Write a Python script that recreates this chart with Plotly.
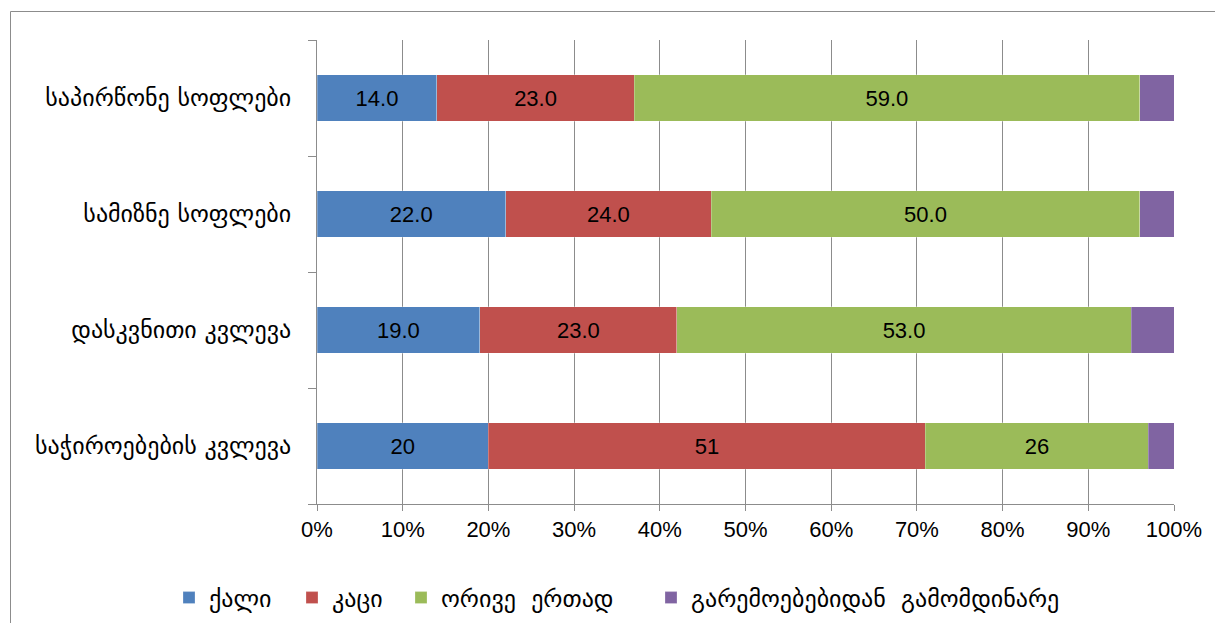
import plotly.graph_objects as go

categories = ["საჭიროებების კვლევა", "დასკვნითი კვლევა", "სამიზნე სოფლები", "საპირწონე სოფლები"]
series_names = ["ქალი", "კაცი", "ორივე  ერთად", "გარემოებებიდან  გამომდინარე"]
women = [20, 19, 22, 14]
men = [51, 23, 24, 23]
both = [26, 53, 50, 59]
depends = [3, 5, 4, 4]
women_labels = ["20", "19.0", "22.0", "14.0"]
men_labels = ["51", "23.0", "24.0", "23.0"]
both_labels = ["26", "53.0", "50.0", "59.0"]
tick_vals = [0, 10, 20, 30, 40, 50, 60, 70, 80, 90, 100]
tick_text = ["0%", "10%", "20%", "30%", "40%", "50%", "60%", "70%", "80%", "90%", "100%"]
colors = ["#4F81BD", "#C0504D", "#9BBB59", "#8064A2"]

num_font = "Liberation Sans"
geo_font = "DejaVu Sans"

# page body has an 8px offset; compensate so the figure lands where the reference is
OFF = 8
W, H = 1223 - OFF, 623 - OFF
L, T = 317 - OFF, 40 - OFF
R = W - (1174 - OFF)
B = H - (504 - OFF)
pw, ph = W - L - R, H - T - B

def px_x(p):
    return (p - OFF - L) / pw

def px_y(p):
    return (H - B - (p - OFF)) / ph

legend_ids = ["legend", "legend2", "legend3", "legend4"]
legend_left_px = [169, 292, 401, 651]

fig = go.Figure()
data = [(women, women_labels), (men, men_labels), (both, both_labels), (depends, None)]
for (vals, labels), name, col, lid in zip(data, series_names, colors, legend_ids):
    fig.add_trace(go.Bar(
        y=categories, x=vals, name=name, orientation="h", legend=lid,
        marker=dict(color=col, line=dict(color="rgba(255,255,255,0.5)", width=0.5)),
        text=labels if labels else None,
        textposition="inside" if labels else "none",
        insidetextanchor="middle",
        textfont=dict(family=num_font, size=22, color="black"),
        hoverinfo="x+name",
    ))

fig.add_shape(type="rect", xref="paper", yref="paper",
              x0=px_x(10.5), x1=px_x(1240), y0=px_y(640), y1=px_y(11.5),
              line=dict(color="#8c8c8c", width=1), fillcolor="rgba(0,0,0,0)", layer="below")

legend_layout = {}
for lid, lx in zip(legend_ids, legend_left_px):
    legend_layout[lid] = dict(
        orientation="h", xref="container", x=(lx - OFF) / W, xanchor="left",
        yref="container", y=1 - (598 - OFF) / H, yanchor="middle",
        font=dict(family=geo_font, size=24, color="black"),
        itemwidth=30, bgcolor="rgba(0,0,0,0)")

fig.update_layout(
    barmode="stack",
    bargap=0.6,
    width=W, height=H,
    margin=dict(l=L, r=R, t=T, b=B, autoexpand=False),
    plot_bgcolor="white", paper_bgcolor="white",
    uniformtext=dict(mode="show", minsize=10),
    xaxis=dict(range=[0, 100], tickvals=tick_vals, ticktext=tick_text,
               showgrid=True, gridcolor="#8c8c8c", gridwidth=1,
               showline=True, linecolor="#8c8c8c", linewidth=1,
               ticks="outside", ticklen=6, tickcolor="#8c8c8c",
               tickfont=dict(family=num_font, size=22, color="black"),
               zeroline=False, fixedrange=True, automargin=False),
    yaxis=dict(showline=True, linecolor="#8c8c8c", linewidth=1,
               ticks="outside", ticklen=8, tickcolor="#8c8c8c",
               tickson="boundaries", showgrid=False,
               tickfont=dict(family=geo_font, size=24, color="black"),
               ticklabelstandoff=20, automargin=False,
               autorange=False, range=[-0.5, 3.5]),
    showlegend=True,
    **legend_layout,
)

fig.write_html("out.html")
